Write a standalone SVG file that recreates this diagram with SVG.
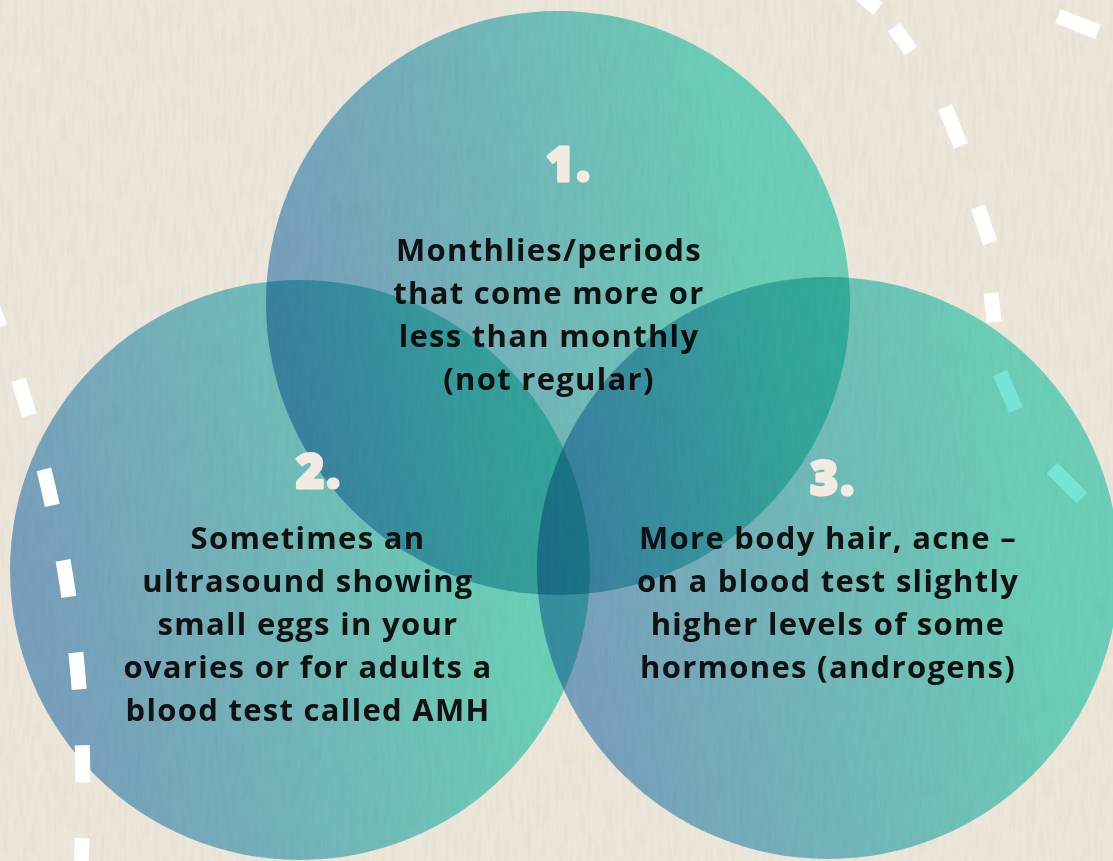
<svg xmlns="http://www.w3.org/2000/svg" width="1113" height="861" viewBox="0 0 1113 861">
  <style>
    .blob { mix-blend-mode: multiply; }
    .num { font-family: "Open Sans", "Liberation Sans", sans-serif; font-weight: 800; font-size: 48px; fill: #f3ebe2; stroke: #f3ebe2; stroke-width: 3; stroke-linejoin: round; letter-spacing: 2px; text-anchor: middle; }
    .txt { font-family: "Open Sans", "Liberation Sans", sans-serif; font-weight: 700; font-size: 31px; letter-spacing: 1.3px; fill: #111111; text-anchor: middle; }
    .dash { fill: none; stroke: #ffffff; stroke-width: 15; }
  </style>
  <defs>
    <linearGradient id="grad" x1="0" y1="0.6" x2="1" y2="0.4">
      <stop offset="0.05" stop-color="#82b0dc"/>
      <stop offset="0.85" stop-color="#73e4d5"/>
    </linearGradient>
    <filter id="paper" x="0" y="0" width="100%" height="100%">
      <feTurbulence type="fractalNoise" baseFrequency="0.22 0.035" numOctaves="3" seed="4"/>
      <feColorMatrix type="matrix" values="0 0 0 0 0.55  0 0 0 0 0.52  0 0 0 0 0.45  0.7 0 0 0 -0.28"/>
    </filter>
  </defs>

  <rect x="0" y="0" width="1113" height="861" fill="#ece7da"/>
  <rect x="0" y="0" width="1113" height="861" filter="url(#paper)" opacity="0.55"/>

  <g id="decor-back">
    <path class="dash" d="M858 -8 L878 9 M894 27 L911 51 M945 107 L961 146 M978 207 L990 243 M991 293 L994 322 M1000 373 L1016 410 M1052 468 L1082 498 M1058 16 L1098 32"/>
  </g>

  <g id="node1">
    <circle class="blob" cx="558" cy="303" r="292" fill="url(#grad)"/>
    <text class="num" x="569" y="181">1.</text>
    <text class="txt" x="549" y="261">Monthlies/periods</text>
    <text class="txt" x="549" y="304">that come more or</text>
    <text class="txt" x="549" y="347">less than monthly</text>
    <text class="txt" x="549" y="390">(not regular)</text>
  </g>

  <g id="node2">
    <circle class="blob" cx="300" cy="570" r="290" fill="url(#grad)"/>
    <text class="num" x="319" y="488">2.</text>
    <text class="txt" x="308" y="549">Sometimes an</text>
    <text class="txt" x="308" y="592">ultrasound showing</text>
    <text class="txt" x="308" y="635">small eggs in your</text>
    <text class="txt" x="308" y="678">ovaries or for adults a</text>
    <text class="txt" x="308" y="721">blood test called AMH</text>
  </g>

  <g id="node3">
    <circle class="blob" cx="828" cy="568" r="291" fill="url(#grad)"/>
    <text class="num" x="833" y="495">3.</text>
    <text class="txt" x="828" y="549">More body hair, acne –</text>
    <text class="txt" x="828" y="592">on a blood test slightly</text>
    <text class="txt" x="828" y="635">higher levels of some</text>
    <text class="txt" x="828" y="678">hormones (androgens)</text>
  </g>

  <g id="decor-front">
    <path class="dash" stroke-dasharray="37 56" d="M-13.2 292.5 A1335 1335 0 0 1 74.3 941.7"/>
  </g>
</svg>
